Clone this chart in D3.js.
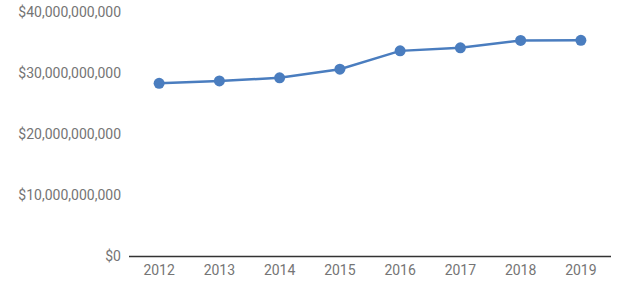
<!DOCTYPE html>
<html><head><meta charset="utf-8">
<script src="https://cdn.jsdelivr.net/npm/d3@7"></script>
<style>body{margin:0;background:#fff}svg{display:block}</style>
</head><body>
<svg id="c" width="638" height="296"></svg>
<script>
const years = ["2012","2013","2014","2015","2016","2017","2018","2019"];
const values = [28.3e9, 28.68e9, 29.2e9, 30.6e9, 33.6e9, 34.1e9, 35.3e9, 35.32e9];
const yTicks = [0, 10e9, 20e9, 30e9, 40e9];

const svg = d3.select("#c");
const x = d3.scalePoint().domain(years).range([129, 611]).padding(0.5);
const y = d3.scaleLinear().domain([0, 40e9]).range([256.5, 11.7]);
const fmt = v => "$" + d3.format(",")(v);
const font = "Roboto, sans-serif";

svg.append("g").selectAll("text").data(yTicks).join("text")
  .attr("x", 121).attr("y", d => y(d)).attr("dy", "0.35em")
  .attr("text-anchor", "end").attr("font-family", font).attr("font-size", 14)
  .attr("fill", "#757575").text(fmt);

svg.append("line").attr("x1", 129).attr("x2", 611)
  .attr("y1", y(0)).attr("y2", y(0)).attr("stroke", "#333").attr("stroke-width", 1.5);

svg.append("g").selectAll("text").data(years).join("text")
  .attr("x", d => x(d)).attr("y", 270).attr("dy", "0.35em")
  .attr("text-anchor", "middle").attr("font-family", font).attr("font-size", 14)
  .attr("fill", "#757575").text(d => d);

const data = years.map((k, i) => ({k, v: values[i]}));
svg.append("path").datum(data)
  .attr("fill", "none").attr("stroke", "#4a7dbf").attr("stroke-width", 2.5)
  .attr("d", d3.line().x(d => x(d.k)).y(d => y(d.v)));
svg.append("g").selectAll("circle").data(data).join("circle")
  .attr("cx", d => x(d.k)).attr("cy", d => y(d.v)).attr("r", 5.5)
  .attr("fill", "#4a7dbf");
</script>
</body></html>
